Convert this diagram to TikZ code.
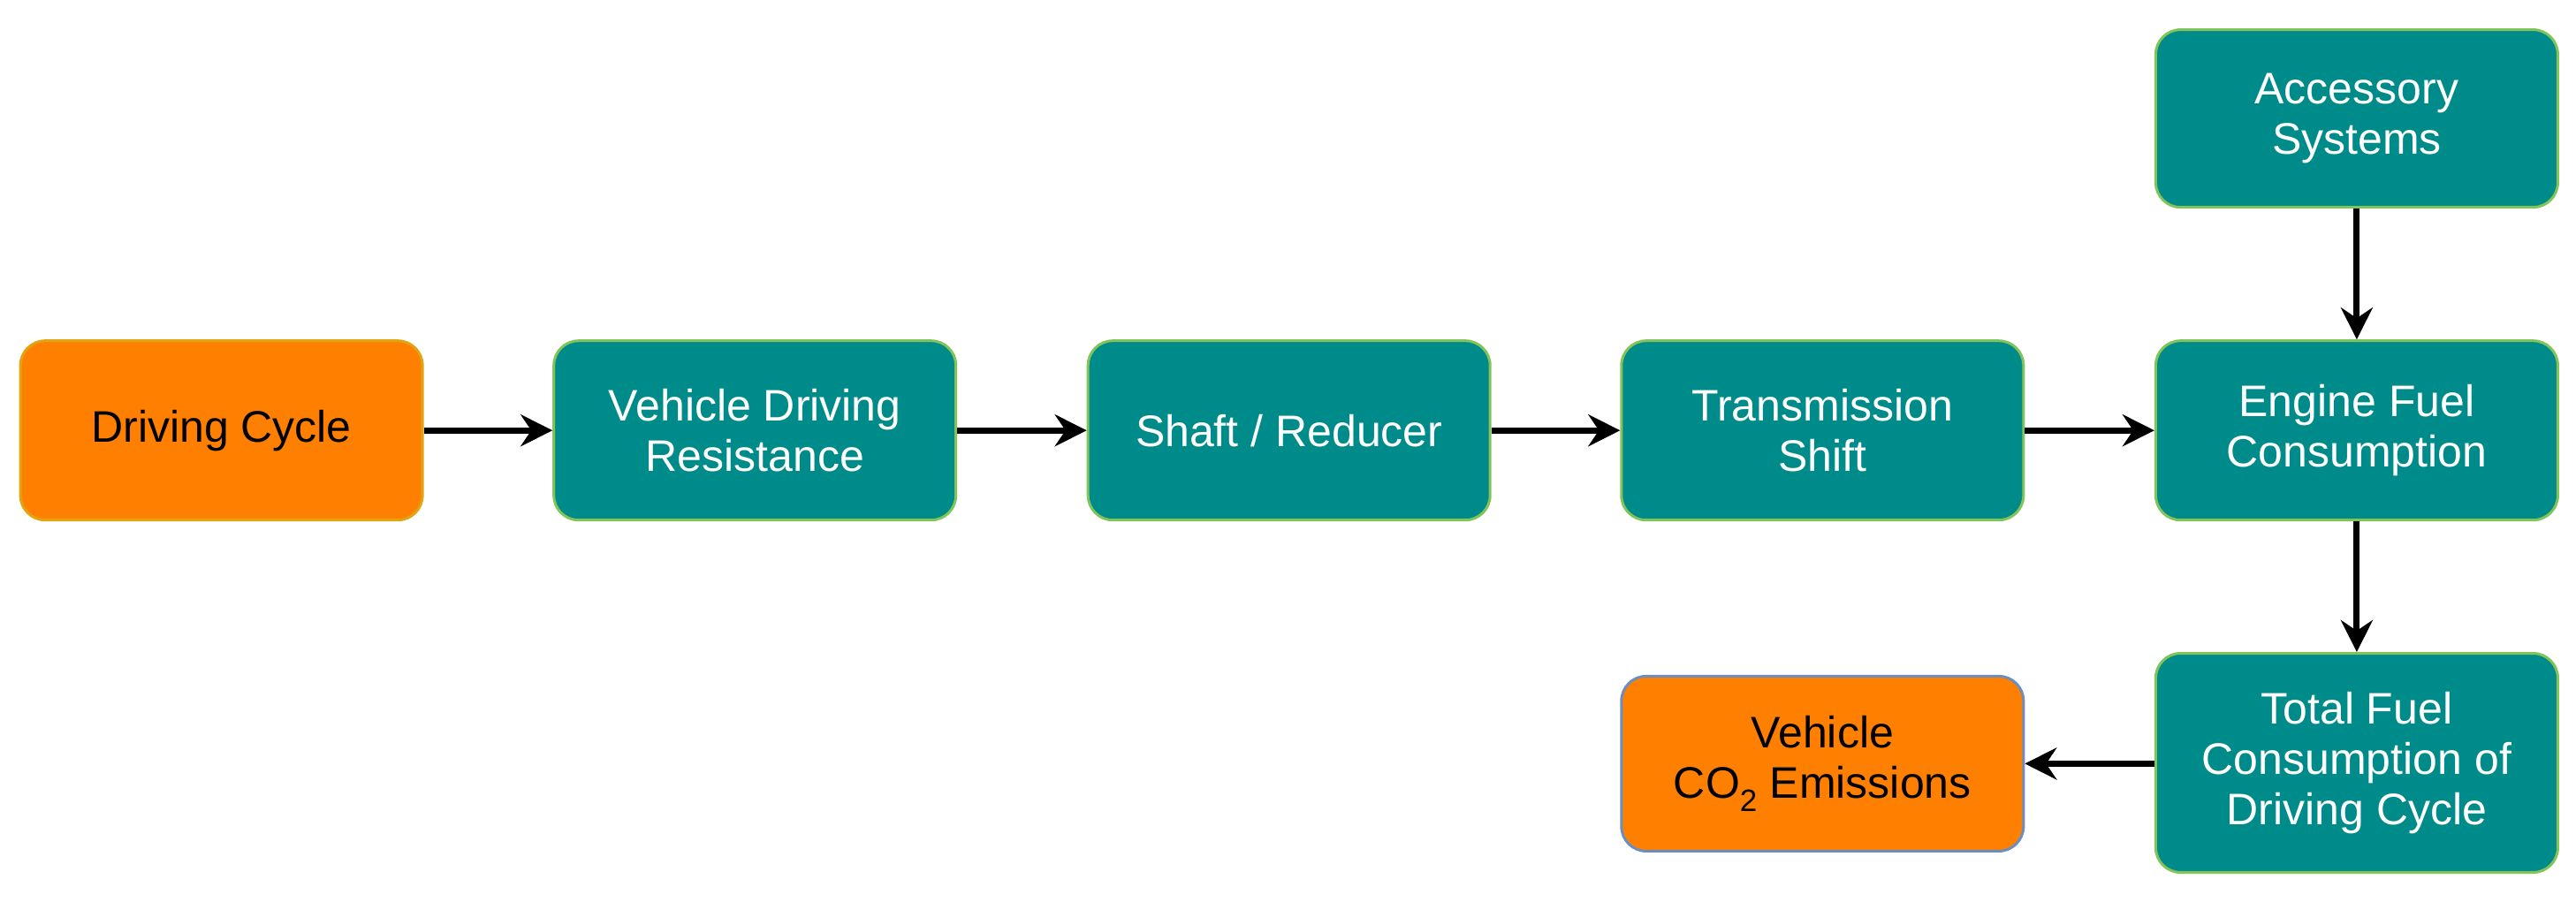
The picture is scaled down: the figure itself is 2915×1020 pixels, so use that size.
\documentclass[tikz,border=0pt]{standalone}
\usepackage{fontspec}
\setmainfont{Liberation Sans}
\usetikzlibrary{arrows.meta}
\begin{document}
\begin{tikzpicture}[x=1pt,y=-1pt,
  box/.style={rounded corners=28pt, line width=3pt, minimum width=455pt, align=center,
    font=\fontsize{50}{57}\selectfont, inner sep=0pt},
  tealbox/.style={box, fill=teal0, draw=green0, text=white, minimum height=203pt},
  orbox/.style={box, fill=orange0, draw=orborder, text=black, minimum height=203pt},
  arr/.style={line width=7pt, -{Stealth[length=36pt,width=36pt,inset=12pt]}}]
\definecolor{teal0}{RGB}{0,139,139}
\definecolor{green0}{RGB}{130,195,90}
\definecolor{orange0}{RGB}{255,128,0}
\definecolor{orborder}{RGB}{225,165,20}
\definecolor{blueb}{RGB}{108,142,191}
\useasboundingbox (0,0) rectangle (2915,1020);
\node[orbox] (dc) at (250.6,487.2) {Driving Cycle};
\node[tealbox] (vdr) at (854.2,487.2) {Vehicle Driving\\Resistance};
\node[tealbox] (sr) at (1458.7,487.2) {Shaft / Reducer};
\node[tealbox] (ts) at (2062.3,487.2) {Transmission\\Shift};
\node[tealbox] (ef) at (2666.9,487.2) {Engine Fuel\\Consumption};
\node[tealbox, minimum height=201pt] (acc) at (2666.9,134.1) {Accessory\\Systems};
\node[tealbox, minimum height=248pt] (tot) at (2666.9,863.5) {Total Fuel\\Consumption of\\Driving Cycle};
\node[orbox, draw=blueb, minimum height=198pt] (co2) at (2062.3,864.4) {Vehicle\\CO\textsubscript{2} Emissions};
\draw[arr] (dc) -- (vdr);
\draw[arr] (vdr) -- (sr);
\draw[arr] (sr) -- (ts);
\draw[arr] (ts) -- (ef);
\draw[arr] (acc) -- (ef);
\draw[arr] (ef) -- (tot);
\draw[arr] (tot.west |- co2) -- (co2);
\end{tikzpicture}
\end{document}
